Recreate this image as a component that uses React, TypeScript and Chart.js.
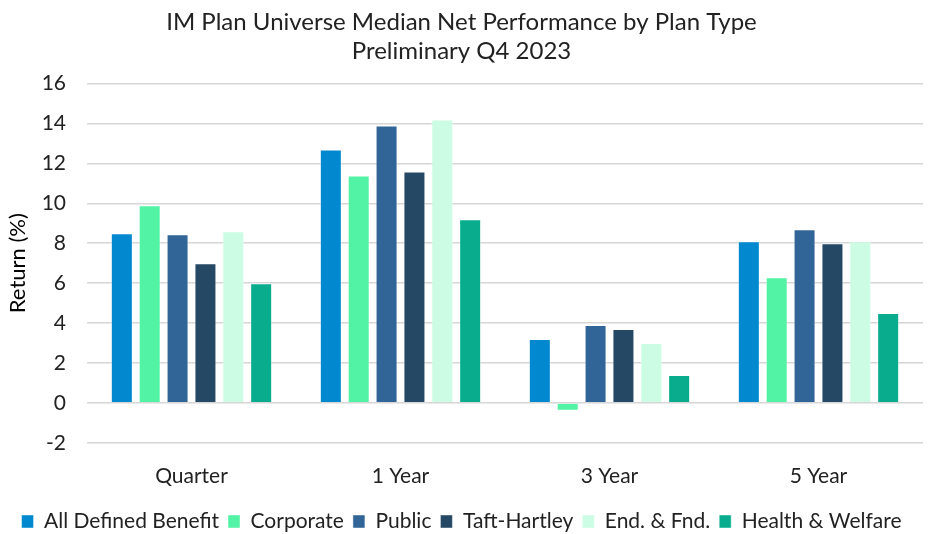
import React, { useEffect, useRef } from "react";
import { Chart, registerables } from "chart.js";

Chart.register(...registerables);

const categories = ["Quarter", "1 Year", "3 Year", "5 Year"];
const allDefinedBenefit = [8.5, 12.7, 3.2, 8.1];
const corporate = [9.9, 11.4, -0.4, 6.3];
const publicPlans = [8.45, 13.9, 3.9, 8.7];
const taftHartley = [7.0, 11.6, 3.7, 8.0];
const endFnd = [8.6, 14.2, 3.0, 8.1];
const healthWelfare = [6.0, 9.2, 1.4, 4.5];
const yTicks = [-2, 0, 2, 4, 6, 8, 10, 12, 14, 16];

const FONT = "Lato, 'Open Sans', sans-serif";

export default function App() {
  const ref = useRef<HTMLCanvasElement>(null);
  useEffect(() => {
    if (!ref.current) return;
    const mk = (label: string, data: number[], color: string) => ({
      label,
      data,
      backgroundColor: color,
      borderColor: "rgba(255,255,255,0.45)",
      borderWidth: 1,
      categoryPercentage: 0.8,
      barPercentage: 0.79,
    });
    const chart = new Chart(ref.current, {
      type: "bar",
      data: {
        labels: categories,
        datasets: [
          mk("All Defined Benefit", allDefinedBenefit, "#0288CE"),
          mk("Corporate", corporate, "#52F3A4"),
          mk("Public", publicPlans, "#326597"),
          mk("Taft-Hartley", taftHartley, "#254865"),
          mk("End. & Fnd.", endFnd, "#CCFDE4"),
          mk("Health & Welfare", healthWelfare, "#09AD8D"),
        ],
      },
      options: {
        responsive: false,
        animation: false,
        layout: { padding: { left: 0, right: 10, top: 8, bottom: -8 } },
        plugins: {
          title: {
            display: true,
            text: [
              "IM Plan Universe Median Net Performance by Plan Type",
              "Preliminary Q4 2023",
            ],
            color: "#222",
            font: { family: FONT, size: 24, weight: "normal" },
            padding: { top: 0, bottom: 18 },
            lineHeight: 1.25,
          },
          legend: {
            position: "bottom",
            labels: {
              color: "#222",
              font: { family: FONT, size: 21 },
              boxWidth: 12,
              boxHeight: 13,
              padding: 9,
            },
          },
          tooltip: { enabled: false },
        },
        scales: {
          x: {
            grid: { display: false },
            border: { display: false },
            ticks: {
              color: "#222",
              font: { family: FONT, size: 21 },
              padding: 13,
            },
          },
          y: {
            min: -2,
            max: 16,
            afterBuildTicks: (axis: any) => {
              axis.ticks = yTicks.map((v) => ({ value: v }));
            },
            afterFit: (axis: any) => {
              axis.width = 87;
            },
            grid: { color: "#d6d6d6", lineWidth: 1.6, drawTicks: false },
            border: { display: false },
            ticks: {
              color: "#222",
              font: { family: FONT, size: 21 },
              padding: 21,
            },
            title: {
              display: true,
              text: "Return (%)",
              color: "#000",
              font: { family: FONT, size: 22 },
              padding: { top: 5, bottom: 0 },
            },
          },
        },
      },
    });
    return () => chart.destroy();
  }, []);
  return (
    <div style={{ position: "fixed", left: 0, top: 0, width: 933, height: 534, background: "#fff" }}>
      <canvas ref={ref} width={933} height={534} />
    </div>
  );
}
